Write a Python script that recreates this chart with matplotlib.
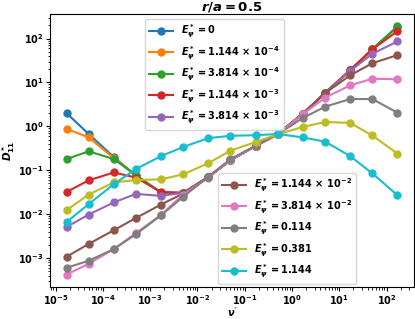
import numpy as np
import matplotlib
matplotlib.use("Agg")
import matplotlib.pyplot as plt

plt.rcParams['font.weight'] = 'bold'
plt.rcParams['mathtext.fontset'] = 'custom'
plt.rcParams['mathtext.rm'] = 'DejaVu Sans:bold'
plt.rcParams['mathtext.bf'] = 'DejaVu Sans:bold'
plt.rcParams['mathtext.it'] = 'DejaVu Sans:italic:bold'

# collisionality values
nu = [1.7e-5, 5e-5, 1.7e-4, 5e-4, 1.7e-3, 5e-3, 1.7e-2, 5e-2,
      1.7e-1, 5e-1, 1.7, 5, 17, 50, 170]

labels = [r'$E^*_\psi = 0$',
          r'$E^*_\psi = 1.144\,\times\,10^{-4}$',
          r'$E^*_\psi = 3.814\,\times\,10^{-4}$',
          r'$E^*_\psi = 1.144\,\times\,10^{-3}$',
          r'$E^*_\psi = 3.814\,\times\,10^{-3}$',
          r'$E^*_\psi = 1.144\,\times\,10^{-2}$',
          r'$E^*_\psi = 3.814\,\times\,10^{-2}$',
          r'$E^*_\psi = 0.114$',
          r'$E^*_\psi = 0.381$',
          r'$E^*_\psi = 1.144$']

d_e0 = [2.0, 0.67, 0.2, 0.075, 0.031, 0.03, 0.07, 0.17, 0.36, 0.67, 1.95, 5.8, 19, 57, 185]
d_e1 = [0.88, 0.56, 0.19, 0.075, 0.031, 0.03, 0.07, 0.17, 0.36, 0.67, 1.95, 5.8, 19, 57, 185]
d_e2 = [0.18, 0.27, 0.18, 0.078, 0.031, 0.03, 0.07, 0.17, 0.36, 0.67, 1.95, 5.8, 19, 57, 190]
d_e3 = [0.032, 0.059, 0.089, 0.068, 0.032, 0.031, 0.07, 0.17, 0.36, 0.67, 1.95, 5.8, 19, 57, 147]
d_e4 = [0.0051, 0.0098, 0.0185, 0.029, 0.026, 0.031, 0.07, 0.17, 0.36, 0.67, 1.95, 5.7, 18.3, 45, 86]
d_e5 = [0.00107, 0.0021, 0.0043, 0.0082, 0.0166, 0.0296, 0.071, 0.17, 0.36, 0.67, 1.95, 5.7, 14.5, 27.5, 42]
d_e6 = [0.00042, 0.00074, 0.0016, 0.0037, 0.0097, 0.028, 0.068, 0.17, 0.35, 0.66, 1.9, 4.5, 8.6, 12.2, 11.8]
d_e7 = [0.0006, 0.00087, 0.0016, 0.0035, 0.0094, 0.025, 0.071, 0.18, 0.36, 0.66, 1.56, 2.8, 4.2, 4.2, 2.05]
d_e8 = [0.0123, 0.028, 0.053, 0.06, 0.062, 0.081, 0.145, 0.28, 0.44, 0.66, 0.97, 1.26, 1.2, 0.62, 0.24]
d_e9 = [0.0066, 0.017, 0.048, 0.107, 0.21, 0.34, 0.54, 0.61, 0.63, 0.67, 0.56, 0.45, 0.21, 0.085, 0.027]

series = [d_e0, d_e1, d_e2, d_e3, d_e4, d_e5, d_e6, d_e7, d_e8, d_e9]

fig = plt.figure(figsize=(4.15, 3.19), dpi=100)
ax = fig.add_axes([0.1205, 0.1003, 0.877, 0.856])

lines = []
for d, lab in zip(series, labels):
    ln, = ax.plot(nu, d, 'o-', markersize=5, linewidth=1.5, label=lab)
    lines.append(ln)

ax.set_xscale('log')
ax.set_yscale('log')
ax.tick_params(labelsize=7, pad=1.5, length=3)
ax.tick_params(which='minor', length=1.8)
ax.set_xlabel(r"$\nu'$", fontsize=7, labelpad=-1)
ax.set_ylabel(r'$D^*_{11}$', fontsize=7.5, labelpad=1)
ax.set_title(r'$r/a = 0.5$', fontsize=9.5, pad=2)

leg_kw = dict(fontsize=7, handlelength=2.5, labelspacing=0.42, borderaxespad=0)
leg1 = ax.legend(handles=lines[:5], loc='upper left',
                 bbox_to_anchor=(0.261, 0.982), **leg_kw)
ax.add_artist(leg1)
ax.legend(handles=lines[5:], loc='lower left',
          bbox_to_anchor=(0.4615, 0.011), **leg_kw)

fig.savefig('out.png', dpi=100)
